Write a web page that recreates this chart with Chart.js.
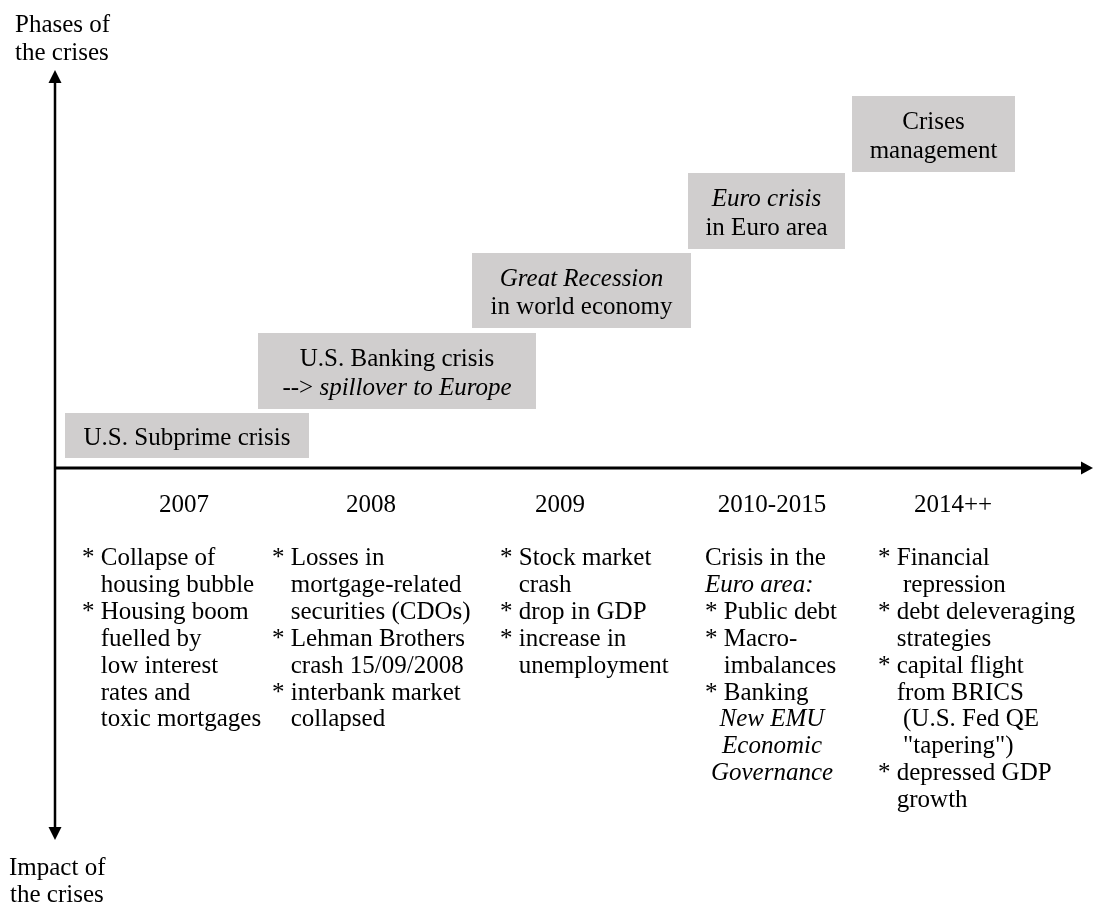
<!DOCTYPE html>
<html>
<head>
<meta charset="utf-8">
<title>Phases and impact of the crises</title>
<script src="https://cdn.jsdelivr.net/npm/chart.js@4.4.1/dist/chart.umd.min.js"></script>
<style>
html,body{margin:0;padding:0;background:#ffffff;}
canvas{display:block;}
</style>
</head>
<body>
<canvas id="mainChart" width="1094" height="906"></canvas>
<script>

/* DATA */

const yearLabels = ["2007", "2008", "2009", "2010-2015", "2014++"];

const yearPos = [12.9, 31.6, 50.5, 71.7, 89.8];

// phase boxes: "|" toggles italic
const phaseLabels = [
  ["U.S. Subprime crisis"],
  ["U.S. Banking crisis", "--> |spillover to Europe|"],
  ["|Great Recession|", "in world economy"],
  ["|Euro crisis|", "in Euro area"],
  ["Crises", "management"]
];

const phaseStart = [1.0, 20.3, 41.7, 63.3, 79.7];
const phaseEnd   = [25.4, 48.1, 63.6, 79.0, 96.0];
const phaseLevel = [8.1, 24.25, 44.4, 64.25, 83.5];

// impact lists below the time axis
const impact2007 = ["* Collapse of", "  housing bubble", "* Housing boom", "  fuelled by", "  low interest", "  rates and", "  toxic mortgages"];
const impact2008 = ["* Losses in", "  mortgage-related", "  securities (CDOs)", "* Lehman Brothers", "  crash 15/09/2008", "* interbank market", "  collapsed"];
const impact2009 = ["* Stock market", "  crash", "* drop in GDP", "* increase in", "  unemployment"];
const impact2010 = ["Crisis in the", "|Euro area:|", "* Public debt", "* Macro-", "  imbalances", "* Banking", "~|New EMU|", "~|Economic|", "~|Governance|"];
const impact2014 = ["* Financial", "   repression", "* debt deleveraging", "  strategies", "* capital flight", "  from BRICS", "   (U.S. Fed QE", "   \"tapering\")", "* depressed GDP", "  growth"];

const impactLists = [impact2007, impact2008, impact2009, impact2010, impact2014];
const impactLeft = [2.7, 21.7, 44.5, 65.0, 82.3];

/* STYLE */

const plainFont = '25px "Liberation Serif", "Times New Roman", serif';
const italicFont = 'italic 25px "Liberation Serif", "Times New Roman", serif';
const boxColor = "#d0cece";
const boxThickness = [45, 76, 75, 76, 76];

/* TEXT HELPER */

function drawRich(c, text, x, y, align){
  const parts = text.split("|");
  let w = 0;
  parts.forEach((p, i) => {
    c.font = i % 2 ? italicFont : plainFont;
    w += c.measureText(p).width;
  });
  let cx = align === "center" ? x - w / 2 : x;
  c.textAlign = "left";
  parts.forEach((p, i) => {
    c.font = i % 2 ? italicFont : plainFont;
    c.fillText(p, cx, y);
    cx += c.measureText(p).width;
  });
}

/* AXES, ARROWS AND TEXT */

const diagramPlugin = {
  id: "diagram",
  afterDatasetsDraw(chart){
    const c = chart.ctx;
    const xs = chart.scales.x;
    const ys = chart.scales.y;
    const area = chart.chartArea;
    const ox = xs.getPixelForValue(0);
    const oy = ys.getPixelForValue(0);

    c.save();
    c.strokeStyle = "#000";
    c.fillStyle = "#000";
    c.lineWidth = 2.5;

    // vertical axis, arrows both ways
    c.beginPath();
    c.moveTo(ox, area.top + 12);
    c.lineTo(ox, area.bottom - 12);
    c.stroke();
    c.beginPath();
    c.moveTo(ox, area.top);
    c.lineTo(ox - 6.5, area.top + 13);
    c.lineTo(ox + 6.5, area.top + 13);
    c.closePath();
    c.fill();
    c.beginPath();
    c.moveTo(ox, area.bottom);
    c.lineTo(ox - 6.5, area.bottom - 13);
    c.lineTo(ox + 6.5, area.bottom - 13);
    c.closePath();
    c.fill();

    // time axis
    c.lineWidth = 3;
    c.beginPath();
    c.moveTo(ox, oy);
    c.lineTo(area.right - 10, oy);
    c.stroke();
    c.beginPath();
    c.moveTo(area.right, oy);
    c.lineTo(area.right - 12, oy - 6.5);
    c.lineTo(area.right - 12, oy + 6.5);
    c.closePath();
    c.fill();

    c.textBaseline = "alphabetic";

    // labels inside the phase boxes
    phaseLabels.forEach((lines, i) => {
      const el = chart.getDatasetMeta(i).data[0];
      const cx = (el.x + el.base) / 2;
      const n = lines.length;
      lines.forEach((t, k) => {
        drawRich(c, t, cx, el.y + 9.5 + (k - (n - 1) / 2) * 28.5, "center");
      });
    });

    // years
    yearLabels.forEach((t, i) => {
      drawRich(c, t, xs.getPixelForValue(yearPos[i]), ys.getPixelForValue(-11), "center");
    });

    // impact lists
    const firstLine = ys.getPixelForValue(-24.25);
    c.font = plainFont;
    const bulletW = c.measureText("* ").width;
    impactLists.forEach((lines, i) => {
      const left = xs.getPixelForValue(impactLeft[i]);
      const mid = xs.getPixelForValue(yearPos[i]);
      lines.forEach((t, k) => {
        const y = firstLine + k * 26.9;
        if(t.startsWith("~")){
          drawRich(c, t.slice(1), mid, y, "center");
        }else if(t.startsWith("  ")){
          drawRich(c, t.slice(2), left + bulletW, y, "left");
        }else{
          drawRich(c, t, left, y, "left");
        }
      });
    });

    // axis titles
    drawRich(c, "Phases of", area.left - 40, area.top - 38, "left");
    drawRich(c, "the crises", area.left - 40, area.top - 10, "left");
    drawRich(c, "Impact of", area.left - 46, area.bottom + 35, "left");
    drawRich(c, "the crises", area.left - 45, area.bottom + 62, "left");

    c.restore();
  }
};

/* CHART SETUP */

const ctx = document.getElementById("mainChart");

const chart = new Chart(ctx, {
  type: "bar",
  data: {
    datasets: phaseLabels.map((l, i) => ({
      label: l.join(" ").replace(/\|/g, ""),
      data: [{ x: [phaseStart[i], phaseEnd[i]], y: phaseLevel[i] }],
      backgroundColor: boxColor,
      borderWidth: 0,
      inflateAmount: 0,
      barThickness: boxThickness[i],
      stack: "phases"
    }))
  },
  options: {
    indexAxis: "y",
    responsive: false,
    animation: false,
    events: [],
    layout: {
      padding: { left: 55, right: 1, top: 70, bottom: 66 }
    },
    plugins: {
      legend: { display: false },
      tooltip: { enabled: false }
    },
    scales: {
      x: { type: "linear", display: false, min: 0, max: 103.8, stacked: false },
      y: { type: "linear", display: false, min: -93, max: 99.5, offset: false }
    }
  },
  plugins: [diagramPlugin]
});

</script>
</body>
</html>
